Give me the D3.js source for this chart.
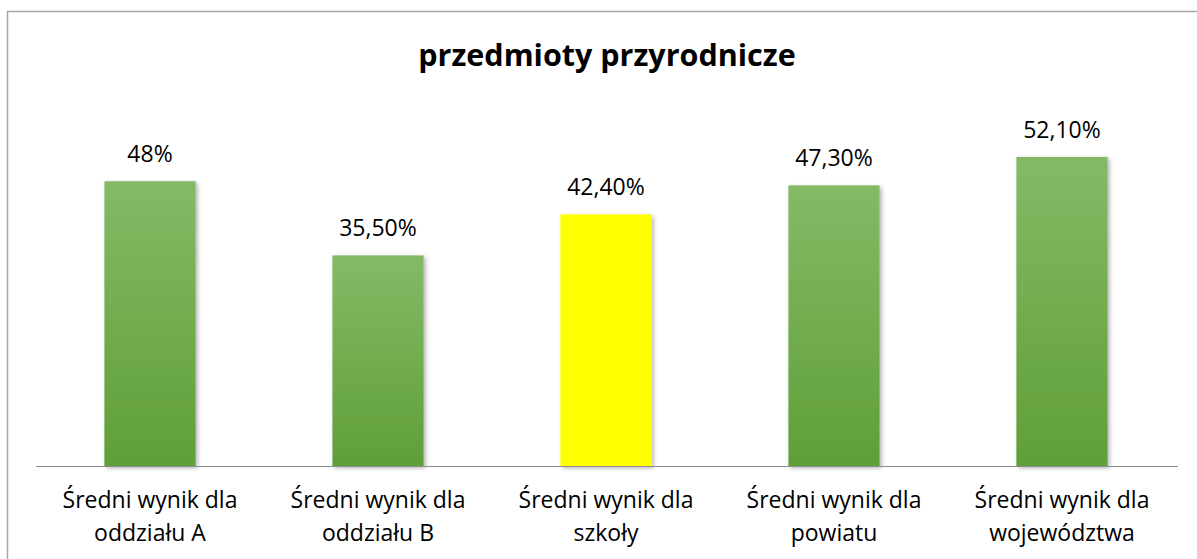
<!DOCTYPE html>
<html>
<head>
<meta charset="utf-8">
<script src="https://cdn.jsdelivr.net/npm/d3@7/dist/d3.min.js"></script>
<style>
    html, body { margin: 0; padding: 0; background: #ffffff; }
    svg { display: block; font-family: "Open Sans", Calibri, sans-serif; }
</style>
</head>
<body>
<svg id="chartSvg"></svg>
<script>
// chart data
let categories = ["oddziału A", "oddziału B", "szkoły", "powiatu", "województwa"];
let labelFirstLine = "Średni wynik dla";
let values = [48, 35.5, 42.4, 47.3, 52.1];
let valueLabels = ["48%", "35,50%", "42,40%", "47,30%", "52,10%"];
let barKinds = ["green", "green", "yellow", "green", "green"];
let chartTitle = "przedmioty przyrodnicze";

// layout
let width = 1197;
let height = 559;
let chartMargin = {left: 36, right: 19, top: 110, bottom: 93};

let svg = d3.select("#chartSvg")
    .attr("width", width)
    .attr("height", height);

let defs = svg.append("defs");

let grad = defs.append("linearGradient")
    .attr("id", "greenGrad")
    .attr("x1", "0").attr("y1", "0")
    .attr("x2", "0").attr("y2", "1");
grad.append("stop").attr("offset", "0%").attr("stop-color", "#84ba66");
grad.append("stop").attr("offset", "100%").attr("stop-color", "#5f9f38");

let shadow = defs.append("filter")
    .attr("id", "barShadow")
    .attr("x", "-20%").attr("y", "-20%")
    .attr("width", "150%").attr("height", "150%");
shadow.append("feDropShadow")
    .attr("dx", 2).attr("dy", 2)
    .attr("stdDeviation", 2)
    .attr("flood-color", "#000")
    .attr("flood-opacity", 0.3);

// outer frame (right and bottom edges run off the picture)
svg.append("rect")
    .attr("x", 7.5)
    .attr("y", 11.5)
    .attr("width", width)
    .attr("height", height)
    .attr("fill", "none")
    .attr("stroke", "#a6a6a6")
    .attr("stroke-width", 1.5);

let xScale = d3.scaleBand()
    .domain(categories)
    .range([chartMargin.left, width - chartMargin.right - 2])
    .paddingInner(0.6)
    .paddingOuter(0.3);

let yScale = d3.scaleLinear()
    .domain([0, 60])
    .range([height - chartMargin.bottom, chartMargin.top]);

// title
svg.append("text")
    .attr("x", 607)
    .attr("y", 66)
    .attr("text-anchor", "middle")
    .attr("font-size", "30.5px")
    .attr("font-weight", "bold")
    .attr("fill", "#000")
    .text(chartTitle);

// bars
svg.append("g")
    .selectAll("rect")
    .data(values)
    .enter()
    .append("rect")
    .attr("x", function (d, i) { return xScale(categories[i]); })
    .attr("y", function (d) { return yScale(d); })
    .attr("width", xScale.bandwidth())
    .attr("height", function (d) { return yScale(0) - yScale(d); })
    .attr("fill", function (d, i) {
        return barKinds[i] === "yellow" ? "#ffff00" : "url(#greenGrad)";
    })
    .attr("filter", "url(#barShadow)");

// value labels
svg.append("g")
    .selectAll("text")
    .data(values)
    .enter()
    .append("text")
    .attr("x", function (d, i) { return xScale(categories[i]) + xScale.bandwidth() / 2; })
    .attr("y", function (d) { return yScale(d) - 19; })
    .attr("text-anchor", "middle")
    .attr("font-size", "23px")
    .attr("fill", "#000")
    .text(function (d, i) { return valueLabels[i]; });

// baseline
svg.append("line")
    .attr("x1", chartMargin.left)
    .attr("x2", width - chartMargin.right)
    .attr("y1", yScale(0) + 0.5)
    .attr("y2", yScale(0) + 0.5)
    .attr("stroke", "#8c8c8c")
    .attr("stroke-width", 1);

// category labels
let catLabels = svg.append("g")
    .selectAll("text")
    .data(categories)
    .enter()
    .append("text")
    .attr("text-anchor", "middle")
    .attr("font-size", "23px")
    .attr("fill", "#000");

catLabels.append("tspan")
    .attr("x", function (d) { return xScale(d) + xScale.bandwidth() / 2; })
    .attr("y", 508)
    .text(labelFirstLine);

catLabels.append("tspan")
    .attr("x", function (d) { return xScale(d) + xScale.bandwidth() / 2; })
    .attr("y", 541)
    .text(function (d) { return d; });
</script>
</body>
</html>
